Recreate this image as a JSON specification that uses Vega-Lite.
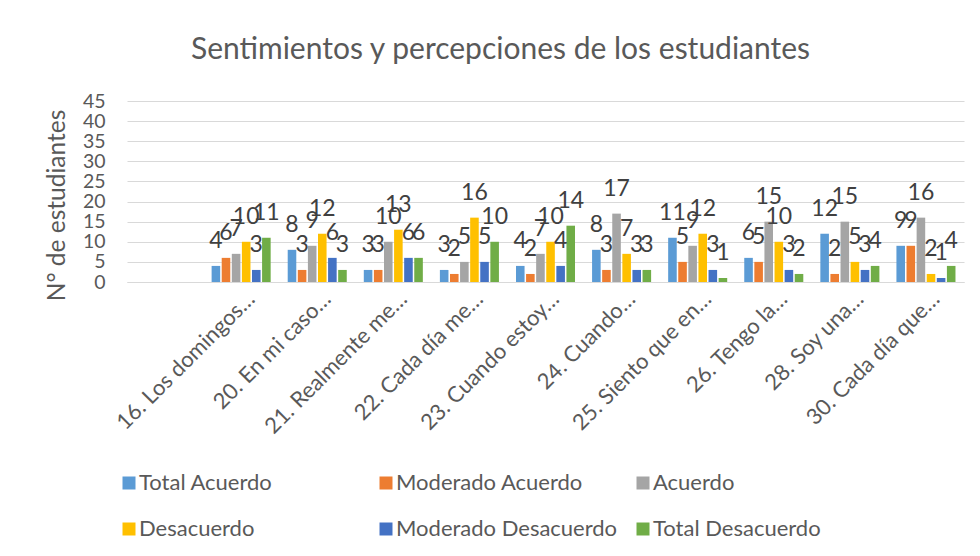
{
  "$schema": "https://vega.github.io/schema/vega-lite/v6.json",
  "width": 837,
  "height": 181,
  "autosize": {"type": "none"},
  "padding": {"left": 127, "top": 101, "right": 16, "bottom": 274},
  "background": "white",
  "title": {
    "text": "Sentimientos y percepciones de los estudiantes",
    "fontSize": 30,
    "fontWeight": "normal",
    "color": "#595959",
    "anchor": "middle",
    "frame": "group",
    "dx": -45,
    "baseline": "alphabetic",
    "offset": 2
  },
  "data": {
    "values": [
      {"q": "16. Los domingos…", "s": "Total Acuerdo", "v": 4},
      {"q": "16. Los domingos…", "s": "Moderado Acuerdo", "v": 6},
      {"q": "16. Los domingos…", "s": "Acuerdo", "v": 7},
      {"q": "16. Los domingos…", "s": "Desacuerdo", "v": 10},
      {"q": "16. Los domingos…", "s": "Moderado Desacuerdo", "v": 3},
      {"q": "16. Los domingos…", "s": "Total Desacuerdo", "v": 11},
      {"q": "20. En mi caso…", "s": "Total Acuerdo", "v": 8},
      {"q": "20. En mi caso…", "s": "Moderado Acuerdo", "v": 3},
      {"q": "20. En mi caso…", "s": "Acuerdo", "v": 9},
      {"q": "20. En mi caso…", "s": "Desacuerdo", "v": 12},
      {"q": "20. En mi caso…", "s": "Moderado Desacuerdo", "v": 6},
      {"q": "20. En mi caso…", "s": "Total Desacuerdo", "v": 3},
      {"q": "21. Realmente me…", "s": "Total Acuerdo", "v": 3},
      {"q": "21. Realmente me…", "s": "Moderado Acuerdo", "v": 3},
      {"q": "21. Realmente me…", "s": "Acuerdo", "v": 10},
      {"q": "21. Realmente me…", "s": "Desacuerdo", "v": 13},
      {"q": "21. Realmente me…", "s": "Moderado Desacuerdo", "v": 6},
      {"q": "21. Realmente me…", "s": "Total Desacuerdo", "v": 6},
      {"q": "22. Cada día me…", "s": "Total Acuerdo", "v": 3},
      {"q": "22. Cada día me…", "s": "Moderado Acuerdo", "v": 2},
      {"q": "22. Cada día me…", "s": "Acuerdo", "v": 5},
      {"q": "22. Cada día me…", "s": "Desacuerdo", "v": 16},
      {"q": "22. Cada día me…", "s": "Moderado Desacuerdo", "v": 5},
      {"q": "22. Cada día me…", "s": "Total Desacuerdo", "v": 10},
      {"q": "23. Cuando estoy…", "s": "Total Acuerdo", "v": 4},
      {"q": "23. Cuando estoy…", "s": "Moderado Acuerdo", "v": 2},
      {"q": "23. Cuando estoy…", "s": "Acuerdo", "v": 7},
      {"q": "23. Cuando estoy…", "s": "Desacuerdo", "v": 10},
      {"q": "23. Cuando estoy…", "s": "Moderado Desacuerdo", "v": 4},
      {"q": "23. Cuando estoy…", "s": "Total Desacuerdo", "v": 14},
      {"q": "24.  Cuando…", "s": "Total Acuerdo", "v": 8},
      {"q": "24.  Cuando…", "s": "Moderado Acuerdo", "v": 3},
      {"q": "24.  Cuando…", "s": "Acuerdo", "v": 17},
      {"q": "24.  Cuando…", "s": "Desacuerdo", "v": 7},
      {"q": "24.  Cuando…", "s": "Moderado Desacuerdo", "v": 3},
      {"q": "24.  Cuando…", "s": "Total Desacuerdo", "v": 3},
      {"q": "25. Siento que en…", "s": "Total Acuerdo", "v": 11},
      {"q": "25. Siento que en…", "s": "Moderado Acuerdo", "v": 5},
      {"q": "25. Siento que en…", "s": "Acuerdo", "v": 9},
      {"q": "25. Siento que en…", "s": "Desacuerdo", "v": 12},
      {"q": "25. Siento que en…", "s": "Moderado Desacuerdo", "v": 3},
      {"q": "25. Siento que en…", "s": "Total Desacuerdo", "v": 1},
      {"q": "26.  Tengo la…", "s": "Total Acuerdo", "v": 6},
      {"q": "26.  Tengo la…", "s": "Moderado Acuerdo", "v": 5},
      {"q": "26.  Tengo la…", "s": "Acuerdo", "v": 15},
      {"q": "26.  Tengo la…", "s": "Desacuerdo", "v": 10},
      {"q": "26.  Tengo la…", "s": "Moderado Desacuerdo", "v": 3},
      {"q": "26.  Tengo la…", "s": "Total Desacuerdo", "v": 2},
      {"q": "28. Soy una…", "s": "Total Acuerdo", "v": 12},
      {"q": "28. Soy una…", "s": "Moderado Acuerdo", "v": 2},
      {"q": "28. Soy una…", "s": "Acuerdo", "v": 15},
      {"q": "28. Soy una…", "s": "Desacuerdo", "v": 5},
      {"q": "28. Soy una…", "s": "Moderado Desacuerdo", "v": 3},
      {"q": "28. Soy una…", "s": "Total Desacuerdo", "v": 4},
      {"q": "30. Cada día que…", "s": "Total Acuerdo", "v": 9},
      {"q": "30. Cada día que…", "s": "Moderado Acuerdo", "v": 9},
      {"q": "30. Cada día que…", "s": "Acuerdo", "v": 16},
      {"q": "30. Cada día que…", "s": "Desacuerdo", "v": 2},
      {"q": "30. Cada día que…", "s": "Moderado Desacuerdo", "v": 1},
      {"q": "30. Cada día que…", "s": "Total Desacuerdo", "v": 4}
    ]
  },
  "encoding": {
    "x": {
      "field": "q",
      "type": "nominal",
      "sort": null,
      "scale": {
        "domain": ["", "16. Los domingos…", "20. En mi caso…", "21. Realmente me…", "22. Cada día me…", "23. Cuando estoy…", "24.  Cuando…", "25. Siento que en…", "26.  Tengo la…", "28. Soy una…", "30. Cada día que…"],
        "paddingInner": 0.224,
        "paddingOuter": 0.112
      },
      "axis": {
        "title": null,
        "grid": false,
        "ticks": false,
        "domainColor": "#D9D9D9",
        "domainWidth": 1,
        "labelAngle": -45,
        "labelAlign": "right",
        "labelBaseline": "alphabetic",
        "labelOffset": 15,
        "labelPadding": 18,
        "labelFontSize": 22,
        "labelColor": "#595959",
        "labelLimit": 400
      }
    },
    "xOffset": {
      "field": "s",
      "type": "nominal",
      "sort": null,
      "scale": {
        "domain": ["Total Acuerdo", "Moderado Acuerdo", "Acuerdo", "Desacuerdo", "Moderado Desacuerdo", "Total Desacuerdo"],
        "paddingInner": 0.15
      }
    },
    "y": {
      "field": "v",
      "type": "quantitative",
      "scale": {"domain": [0, 45]},
      "axis": {
        "values": [0, 5, 10, 15, 20, 25, 30, 35, 40, 45],
        "grid": true,
        "gridColor": "#D9D9D9",
        "gridWidth": 1,
        "domain": false,
        "ticks": false,
        "labelFontSize": 19.5,
        "labelColor": "#595959",
        "labelPadding": 22,
        "title": "N° de estudiantes",
        "titleFontSize": 24.5,
        "titleFontWeight": "normal",
        "titleColor": "#595959",
        "titleAngle": -90,
        "titleAlign": "center",
        "titleBaseline": "middle",
        "titleX": -70,
        "titleY": 104
      }
    }
  },
  "layer": [
    {
      "mark": {"type": "bar"},
      "encoding": {
        "color": {
          "field": "s",
          "type": "nominal",
          "sort": null,
          "scale": {
            "domain": ["Total Acuerdo", "Moderado Acuerdo", "Acuerdo", "Desacuerdo", "Moderado Desacuerdo", "Total Desacuerdo"],
            "range": ["#5B9BD5", "#ED7D31", "#A5A5A5", "#FFC000", "#4472C4", "#70AD47"]
          },
          "legend": {
            "title": null,
            "orient": "none",
            "legendX": -9,
            "legendY": 371,
            "direction": "horizontal",
            "columns": 3,
            "gridAlign": "all",
            "columnPadding": 14,
            "rowPadding": 24,
            "symbolType": "square",
            "symbolSize": 169,
            "symbolStrokeWidth": 0,
            "labelFontSize": 22,
            "labelColor": "#595959",
            "labelOffset": -1,
            "labelLimit": 400
          }
        }
      }
    },
    {
      "mark": {"type": "text", "baseline": "alphabetic", "dy": -18, "fontSize": 23, "color": "#404040"},
      "encoding": {"text": {"field": "v", "type": "quantitative"}}
    }
  ],
  "config": {
    "font": "Lato",
    "view": {"stroke": null}
  }
}
